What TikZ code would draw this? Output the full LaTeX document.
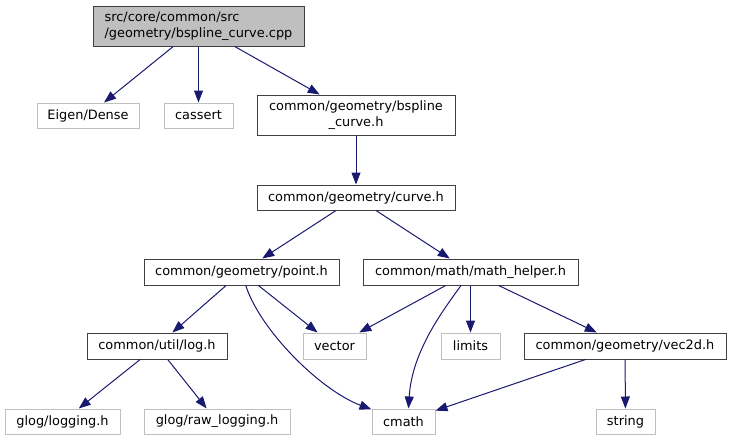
\documentclass[tikz,border=0pt]{standalone}
\usepackage{fontspec}
\setmainfont{DejaVu Sans}
\usetikzlibrary{arrows.meta, positioning}
\definecolor{edge}{HTML}{191970}
\definecolor{frame}{HTML}{404040}
\definecolor{sysframe}{HTML}{BFBFBF}
\definecolor{rootbg}{HTML}{BFBFBF}

\begin{document}
\begin{tikzpicture}[
    x=1pt, y=-1pt,
    hdr/.style={draw=frame, fill=white, line width=1pt, inner sep=0pt, minimum height=26pt, minimum width=#1, font=\fontsize{12.9}{16}\selectfont, align=center},
    sys/.style={draw=sysframe, fill=white, line width=1pt, inner sep=0pt, minimum height=25pt, minimum width=#1, font=\fontsize{12.9}{16}\selectfont},
    dep/.style={-{Triangle[length=12pt, width=9pt]}, edge, line width=1pt},
]
\useasboundingbox (0,0) rectangle (731,440);

% Root file
\node[hdr=211pt, fill=rootbg, minimum height=40pt, align=left] (root) at (198.5,26)
    {src/core/common/src\\/geometry/bspline\_curve.cpp};

% First level
\node[sys=102pt] (eigen) at (88,115.5) {Eigen/Dense};
\node[sys=69pt] (cassert) at (198.5,115.5) {cassert};
\node[hdr=198pt, minimum height=40pt] (bspline) at (356,115)
    {common/geometry/bspline\\\_curve.h};

% Curve
\node[hdr=198pt, minimum height=25pt] (curve) at (356,197.5) {common/geometry/curve.h};

% Point and math helper
\node[hdr=195pt] (point) at (241.5,272) {common/geometry/point.h};
\node[hdr=215pt] (math) at (470.5,272) {common/math/math\_helper.h};

% Third level
\node[hdr=140pt] (log) at (157,346) {common/util/log.h};
\node[sys=63pt, minimum height=26pt] (vector) at (334.5,346) {vector};
\node[sys=59pt, minimum height=26pt] (limits) at (470.5,346) {limits};
\node[hdr=202pt] (vec) at (625,346) {common/geometry/vec2d.h};

% Bottom level
\node[sys=115pt] (logging) at (62.5,421.5) {glog/logging.h};
\node[sys=146pt] (raw) at (217,421.5) {glog/raw\_logging.h};
\node[sys=63pt] (cmath) at (403.5,421.5) {cmath};
\node[sys=59pt] (string) at (625.5,421.5) {string};

% Dependencies
\draw[dep] (root) -- (eigen);
\draw[dep] (root) -- (cassert);
\draw[dep] (root) -- (bspline);
\draw[dep] (bspline) -- (curve);
\draw[dep] (curve) -- (point);
\draw[dep] (curve) -- (math);
\draw[dep] (point) -- (log);
\draw[dep] (point) -- (vector);
\draw[dep] (point) .. controls (260,330) and (320,390) .. (cmath);
\draw[dep] (math) -- (vector);
\draw[dep] (math) .. controls (445,308) and (412,350) .. ([xshift=5pt]cmath.north);
\draw[dep] (math) -- (limits);
\draw[dep] (math) -- (vec);
\draw[dep] (vec) -- (cmath);
\draw[dep] (vec) -- (string);
\draw[dep] (log) -- (logging);
\draw[dep] (log) -- (raw);

\end{tikzpicture}
\end{document}
